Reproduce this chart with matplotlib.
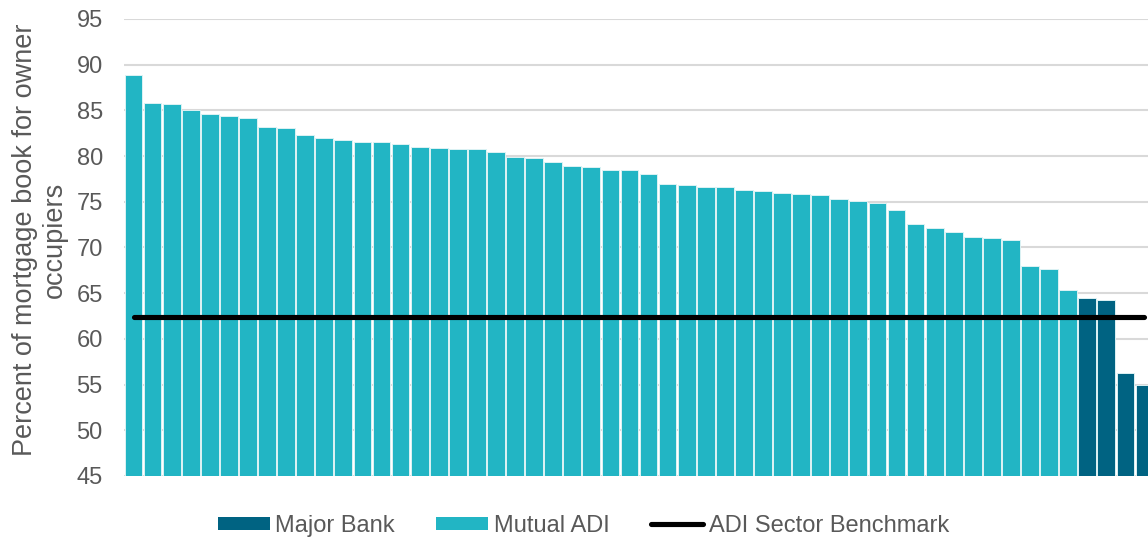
import matplotlib
matplotlib.use("Agg")
import matplotlib.pyplot as plt
from matplotlib.patches import Patch
from matplotlib.lines import Line2D
import numpy as np

plt.rcParams['font.family'] = ['Liberation Sans', 'DejaVu Sans']

# Data
mutual_adi = [88.9, 85.8, 85.7, 85.0, 84.6, 84.4, 84.2, 83.2, 83.1, 82.3,
              82.0, 81.8, 81.5, 81.5, 81.3, 81.0, 80.9, 80.8, 80.8, 80.5,
              79.9, 79.8, 79.4, 78.9, 78.8, 78.5, 78.5, 78.0, 77.0, 76.8,
              76.6, 76.6, 76.3, 76.2, 76.0, 75.9, 75.7, 75.3, 75.1, 74.9,
              74.1, 72.6, 72.1, 71.7, 71.2, 71.0, 70.8, 68.0, 67.7, 65.4]
major_bank = [64.5, 64.3, 56.3, 55.0]
benchmark = 62.4

y_ticks = [45, 50, 55, 60, 65, 70, 75, 80, 85, 90, 95]
y_label = "Percent of mortgage book for owner\noccupiers"
legend_labels = ["Major Bank", "Mutual ADI", "ADI Sector Benchmark"]

c_mutual = "#22B5C4"
c_major = "#006382"
c_text = "#595959"
c_grid = "#D9D9D9"

W, H = 1148, 537
fig = plt.figure(figsize=(W / 100, H / 100), dpi=100)
ax = fig.add_axes([124 / W, 1 - 476 / H, (1154 - 124) / W, (476 - 19) / H])

n_mut = len(mutual_adi)
n_maj = len(major_bank)
x_mut = np.arange(n_mut)
x_maj = np.arange(n_mut, n_mut + n_maj)

ax.bar(x_mut, mutual_adi, width=0.93, bottom=0, color=c_mutual,
       edgecolor="#DDF2F4", linewidth=0.7, zorder=2)
ax.bar(x_maj, major_bank, width=0.93, color=c_major,
       edgecolor="#DDF2F4", linewidth=0.7, zorder=2)

n_all = n_mut + n_maj
ax.plot([0, n_all - 1], [benchmark, benchmark], color="black", lw=3.7,
        solid_capstyle="round", zorder=3, clip_on=False)

ax.set_xlim(-0.5, n_all - 0.5)
ax.set_ylim(45, 95)
ax.set_yticks(y_ticks)
ax.set_xticks([])
ax.grid(axis="y", color=c_grid, linewidth=1.5, zorder=0)
ax.set_axisbelow(True)
for s in ax.spines.values():
    s.set_visible(False)
ax.tick_params(axis="y", length=0, pad=15.3, labelsize=17, labelcolor=c_text)

fig.text(40 / W, 1 - 240 / H, y_label, rotation=90, ha="center", va="center",
         multialignment="center", fontsize=19.5, color=c_text)

handles = [Patch(facecolor=c_major, edgecolor="none"),
           Patch(facecolor=c_mutual, edgecolor="none"),
           Line2D([0], [0], color="black", lw=3.7, solid_capstyle="round")]
leg = fig.legend(handles, legend_labels, loc="center",
                 bbox_to_anchor=(583.5 / W, 1 - 526 / H), ncol=3, frameon=False,
                 fontsize=17, handlelength=2.2, handleheight=0.5,
                 handletextpad=0.25, columnspacing=1.75, borderpad=0)
for t in leg.get_texts():
    t.set_color(c_text)

fig.savefig("out.png", dpi=100)
